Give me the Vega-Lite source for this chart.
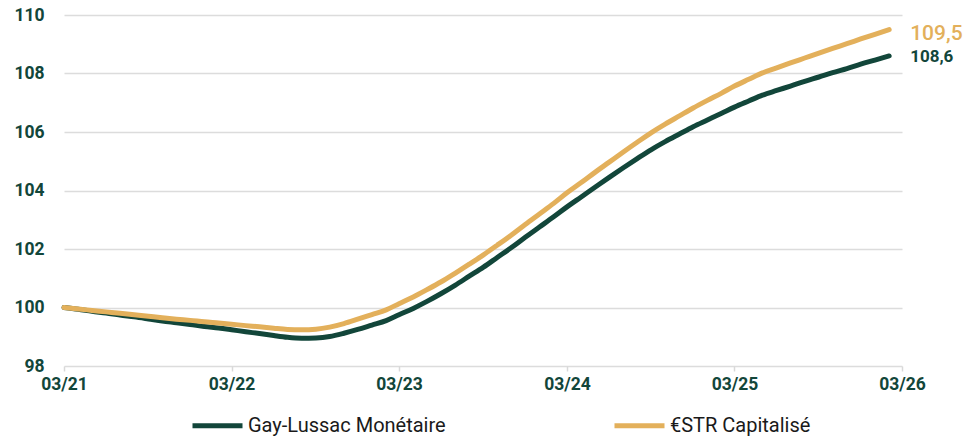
{
  "$schema": "https://vega.github.io/schema/vega-lite/v6.json",
  "width": 838,
  "height": 351,
  "autosize": {"type": "none"},
  "padding": {"left": 64, "top": 15, "right": 68, "bottom": 72},
  "background": "white",
  "config": {
    "view": {"stroke": null},
    "font": "Roboto"
  },
  "datasets": {
    "series": [
      {"m": "2021-03-01T00:00", "gl": 100.00, "estr": 100.00},
      {"m": "2021-04-01T00:00", "gl": 99.94, "estr": 99.95},
      {"m": "2021-05-01T00:00", "gl": 99.87, "estr": 99.90},
      {"m": "2021-06-01T00:00", "gl": 99.81, "estr": 99.85},
      {"m": "2021-07-01T00:00", "gl": 99.74, "estr": 99.80},
      {"m": "2021-08-01T00:00", "gl": 99.68, "estr": 99.75},
      {"m": "2021-09-01T00:00", "gl": 99.61, "estr": 99.70},
      {"m": "2021-10-01T00:00", "gl": 99.54, "estr": 99.65},
      {"m": "2021-11-01T00:00", "gl": 99.48, "estr": 99.60},
      {"m": "2021-12-01T00:00", "gl": 99.42, "estr": 99.56},
      {"m": "2022-01-01T00:00", "gl": 99.35, "estr": 99.51},
      {"m": "2022-02-01T00:00", "gl": 99.30, "estr": 99.47},
      {"m": "2022-03-01T00:00", "gl": 99.24, "estr": 99.43},
      {"m": "2022-04-01T00:00", "gl": 99.17, "estr": 99.38},
      {"m": "2022-05-01T00:00", "gl": 99.11, "estr": 99.34},
      {"m": "2022-06-01T00:00", "gl": 99.04, "estr": 99.29},
      {"m": "2022-07-01T00:00", "gl": 98.98, "estr": 99.25},
      {"m": "2022-08-01T00:00", "gl": 98.95, "estr": 99.24},
      {"m": "2022-09-01T00:00", "gl": 98.96, "estr": 99.26},
      {"m": "2022-10-01T00:00", "gl": 99.01, "estr": 99.33},
      {"m": "2022-11-01T00:00", "gl": 99.12, "estr": 99.45},
      {"m": "2022-12-01T00:00", "gl": 99.25, "estr": 99.60},
      {"m": "2023-01-01T00:00", "gl": 99.40, "estr": 99.76},
      {"m": "2023-02-01T00:00", "gl": 99.55, "estr": 99.92},
      {"m": "2023-03-01T00:00", "gl": 99.75, "estr": 100.13},
      {"m": "2023-04-01T00:00", "gl": 99.97, "estr": 100.36},
      {"m": "2023-05-01T00:00", "gl": 100.21, "estr": 100.61},
      {"m": "2023-06-01T00:00", "gl": 100.48, "estr": 100.88},
      {"m": "2023-07-01T00:00", "gl": 100.76, "estr": 101.17},
      {"m": "2023-08-01T00:00", "gl": 101.07, "estr": 101.48},
      {"m": "2023-09-01T00:00", "gl": 101.38, "estr": 101.80},
      {"m": "2023-10-01T00:00", "gl": 101.71, "estr": 102.13},
      {"m": "2023-11-01T00:00", "gl": 102.05, "estr": 102.48},
      {"m": "2023-12-01T00:00", "gl": 102.40, "estr": 102.84},
      {"m": "2024-01-01T00:00", "gl": 102.75, "estr": 103.20},
      {"m": "2024-02-01T00:00", "gl": 103.10, "estr": 103.56},
      {"m": "2024-03-01T00:00", "gl": 103.44, "estr": 103.92},
      {"m": "2024-04-01T00:00", "gl": 103.78, "estr": 104.27},
      {"m": "2024-05-01T00:00", "gl": 104.11, "estr": 104.62},
      {"m": "2024-06-01T00:00", "gl": 104.45, "estr": 104.97},
      {"m": "2024-07-01T00:00", "gl": 104.77, "estr": 105.31},
      {"m": "2024-08-01T00:00", "gl": 105.09, "estr": 105.65},
      {"m": "2024-09-01T00:00", "gl": 105.40, "estr": 105.98},
      {"m": "2024-10-01T00:00", "gl": 105.67, "estr": 106.27},
      {"m": "2024-11-01T00:00", "gl": 105.93, "estr": 106.55},
      {"m": "2024-12-01T00:00", "gl": 106.18, "estr": 106.82},
      {"m": "2025-01-01T00:00", "gl": 106.41, "estr": 107.08},
      {"m": "2025-02-01T00:00", "gl": 106.64, "estr": 107.33},
      {"m": "2025-03-01T00:00", "gl": 106.85, "estr": 107.57},
      {"m": "2025-04-01T00:00", "gl": 107.06, "estr": 107.80},
      {"m": "2025-05-01T00:00", "gl": 107.26, "estr": 108.02},
      {"m": "2025-06-01T00:00", "gl": 107.42, "estr": 108.19},
      {"m": "2025-07-01T00:00", "gl": 107.57, "estr": 108.36},
      {"m": "2025-08-01T00:00", "gl": 107.73, "estr": 108.53},
      {"m": "2025-09-01T00:00", "gl": 107.88, "estr": 108.70},
      {"m": "2025-10-01T00:00", "gl": 108.03, "estr": 108.86},
      {"m": "2025-11-01T00:00", "gl": 108.17, "estr": 109.02},
      {"m": "2025-12-01T00:00", "gl": 108.32, "estr": 109.18},
      {"m": "2026-01-01T00:00", "gl": 108.46, "estr": 109.34},
      {"m": "2026-02-01T00:00", "gl": 108.60, "estr": 109.50}
    ],
    "ends": [
      {"m": "2026-02-01T00:00", "value": 109.5, "series": "€STR Capitalisé", "label": "109,5"},
      {"m": "2026-02-01T00:00", "value": 108.6, "series": "Gay-Lussac Monétaire", "label": "108,6"}
    ]
  },
  "layer": [
    {
      "data": {"name": "series"},
      "transform": [
        {"fold": ["gl", "estr"], "as": ["key", "value"]},
        {"calculate": "datum.key === 'gl' ? 'Gay-Lussac Monétaire' : '€STR Capitalisé'", "as": "series"}
      ],
      "mark": {"type": "line", "strokeWidth": 5, "interpolate": "monotone", "strokeCap": "round"},
      "encoding": {
        "x": {
          "field": "m", "type": "temporal",
          "scale": {"domain": [{"year": 2021, "month": 3, "date": 1}, {"year": 2026, "month": 3, "date": 1}]},
          "axis": {
            "title": null,
            "values": [
              {"year": 2021, "month": 3, "date": 1},
              {"year": 2022, "month": 3, "date": 1},
              {"year": 2023, "month": 3, "date": 1},
              {"year": 2024, "month": 3, "date": 1},
              {"year": 2025, "month": 3, "date": 1},
              {"year": 2026, "month": 3, "date": 1}
            ],
            "format": "%m/%y",
            "grid": false,
            "domain": false,
            "ticks": true,
            "tickColor": "#d9d9d9",
            "tickWidth": 1.5,
            "tickSize": 5,
            "labelPadding": 4,
            "labelFont": "Roboto",
            "labelFontWeight": "bold",
            "labelFontSize": 17.5,
            "labelColor": "#12463a",
            "labelFlush": false,
            "labelOverlap": false
          }
        },
        "y": {
          "field": "value", "type": "quantitative",
          "scale": {"domain": [98, 110], "nice": false, "zero": false},
          "axis": {
            "title": null,
            "values": [98, 100, 102, 104, 106, 108, 110],
            "grid": true,
            "gridColor": "#dcdcdc",
            "gridWidth": 1.5,
            "domain": false,
            "ticks": false,
            "labelPadding": 20,
            "labelFont": "Roboto",
            "labelFontWeight": "bold",
            "labelFontSize": 17.5,
            "labelColor": "#12463a"
          }
        },
        "color": {
          "field": "series", "type": "nominal",
          "scale": {"domain": ["Gay-Lussac Monétaire", "€STR Capitalisé"], "range": ["#12463a", "#e3b05b"]},
          "legend": {
            "title": null,
            "orient": "none",
            "direction": "horizontal",
            "legendX": 126,
            "legendY": 383,
            "symbolType": "M-1,0L1,0",
            "symbolSize": 2500,
            "symbolStrokeWidth": 5,
            "labelOffset": 3,
            "labelLimit": 400,
            "labelFont": "Roboto",
            "labelFontSize": 20,
            "labelColor": "#1a1a1a",
            "columnPadding": 158
          }
        }
      }
    },
    {
      "data": {"name": "ends"},
      "transform": [{"filter": "datum.label === '109,5'"}],
      "mark": {"type": "text", "align": "left", "baseline": "middle", "dx": 21, "dy": 4, "fontWeight": 500, "font": "Roboto", "fontSize": 21, "color": "#e3b05b"},
      "encoding": {
        "x": {"field": "m", "type": "temporal"},
        "y": {"field": "value", "type": "quantitative"},
        "text": {"field": "label"}
      }
    },
    {
      "data": {"name": "ends"},
      "transform": [{"filter": "datum.label === '108,6'"}],
      "mark": {"type": "text", "align": "left", "baseline": "middle", "dx": 21, "dy": 1, "fontWeight": "bold", "font": "Roboto", "fontSize": 17, "color": "#12463a"},
      "encoding": {
        "x": {"field": "m", "type": "temporal"},
        "y": {"field": "value", "type": "quantitative"},
        "text": {"field": "label"}
      }
    }
  ]
}
